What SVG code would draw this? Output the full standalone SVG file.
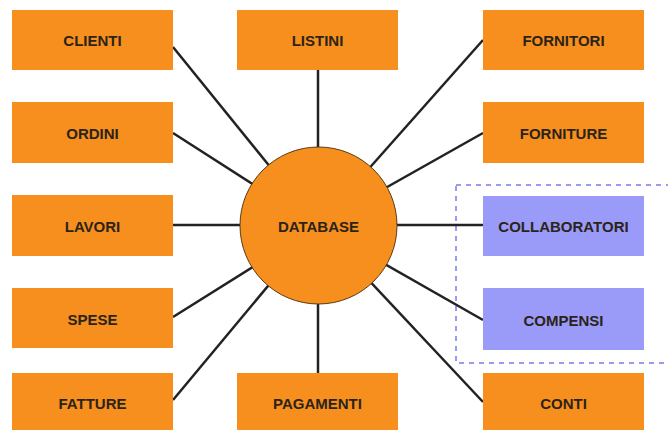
<svg xmlns="http://www.w3.org/2000/svg" width="668" height="430" viewBox="0 0 668 430">
<style>
.box{fill:#F78F1E}
.pbox{fill:#9A9AF8}
.lbl{font-family:"Liberation Sans",Arial,sans-serif;font-weight:bold;font-size:15px;fill:#2a2418;text-anchor:middle;dominant-baseline:central}
.con{stroke:#222;stroke-width:2.5;fill:none}
</style>
<rect width="668" height="430" fill="#fff"/>
<rect x="456" y="185" width="230" height="178" fill="none" stroke="#7a7aee" stroke-width="1.5" stroke-dasharray="5 5"/>
<g id="connectors">
<line class="con" x1="173" y1="47" x2="318" y2="226"/>
<line class="con" x1="173" y1="133" x2="318" y2="226"/>
<line class="con" x1="173" y1="225" x2="318" y2="225"/>
<line class="con" x1="173" y1="317" x2="318" y2="226"/>
<line class="con" x1="173" y1="400" x2="318" y2="226"/>
<line class="con" x1="318" y1="70" x2="318" y2="226"/>
<line class="con" x1="318" y1="226" x2="318" y2="373"/>
<line class="con" x1="483" y1="40" x2="318" y2="226"/>
<line class="con" x1="483" y1="133" x2="318" y2="226"/>
<line class="con" x1="318" y1="225" x2="483" y2="225"/>
<line class="con" x1="483" y1="320" x2="318" y2="226"/>
<line class="con" x1="483" y1="402" x2="318" y2="226"/>
</g>
<g id="database"><circle cx="318.5" cy="225.5" r="78.5" fill="#F78F1E" stroke="#5a3a10" stroke-width="1"/><text class="lbl" x="318.5" y="226">DATABASE</text></g>
<g id="clienti"><rect class="box" x="12" y="10" width="161" height="60"/><text class="lbl" x="92.5" y="40">CLIENTI</text></g>
<g id="ordini"><rect class="box" x="12" y="102" width="161" height="61"/><text class="lbl" x="92.5" y="133">ORDINI</text></g>
<g id="lavori"><rect class="box" x="12" y="195" width="161" height="61"/><text class="lbl" x="92.5" y="226">LAVORI</text></g>
<g id="spese"><rect class="box" x="12" y="288" width="161" height="60"/><text class="lbl" x="92.5" y="319">SPESE</text></g>
<g id="fatture"><rect class="box" x="12" y="373" width="161" height="60"/><text class="lbl" x="92.5" y="403">FATTURE</text></g>
<g id="listini"><rect class="box" x="237" y="10" width="161" height="60"/><text class="lbl" x="317.5" y="40">LISTINI</text></g>
<g id="pagamenti"><rect class="box" x="237" y="373" width="161" height="60"/><text class="lbl" x="317.5" y="403">PAGAMENTI</text></g>
<g id="fornitori"><rect class="box" x="483" y="10" width="161" height="60"/><text class="lbl" x="563.5" y="40">FORNITORI</text></g>
<g id="forniture"><rect class="box" x="483" y="102" width="161" height="61"/><text class="lbl" x="563.5" y="133">FORNITURE</text></g>
<g id="collaboratori"><rect class="pbox" x="483" y="196" width="161" height="60"/><text class="lbl" x="563.5" y="226">COLLABORATORI</text></g>
<g id="compensi"><rect class="pbox" x="483" y="288" width="161" height="62"/><text class="lbl" x="563.5" y="320">COMPENSI</text></g>
<g id="conti"><rect class="box" x="483" y="373" width="161" height="60"/><text class="lbl" x="563.5" y="403">CONTI</text></g>
</svg>
